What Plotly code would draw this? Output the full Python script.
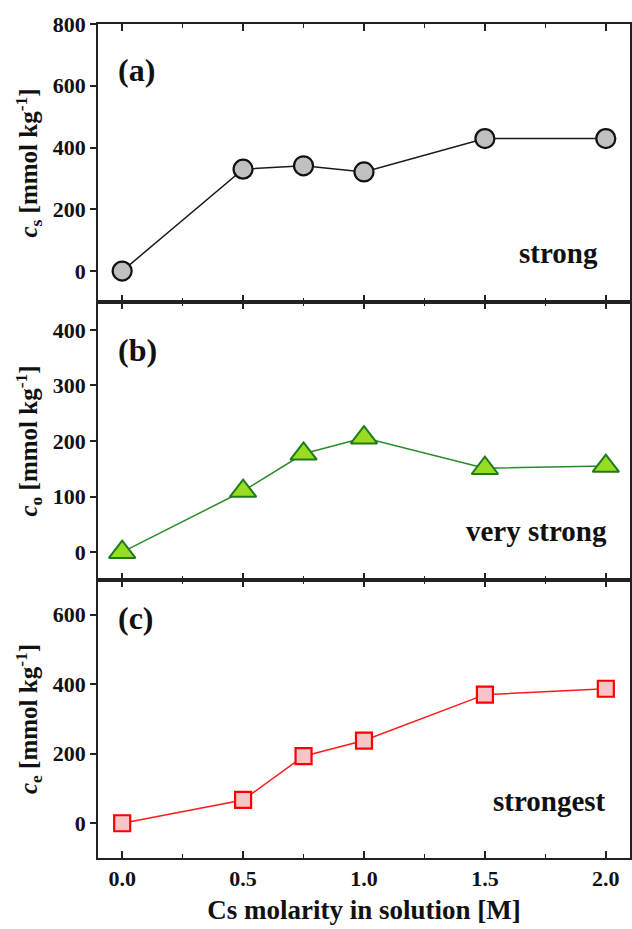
import plotly.graph_objects as go

x_molarity = [0.0, 0.5, 0.75, 1.0, 1.5, 2.0]
c_s = [0, 330, 341, 321, 429, 429]
c_o = [0, 110, 177, 206, 151, 155]
c_e = [0, 67, 193, 238, 370, 387]

x_ticks = [0.0, 0.5, 1.0, 1.5, 2.0]
x_ticklabels = ["0.0", "0.5", "1.0", "1.5", "2.0"]

panel_labels = ["(a)", "(b)", "(c)"]
strength_labels = ["strong", "very strong", "strongest"]
y_titles = ["<i>c</i><sub>s</sub> [mmol kg<sup>-1</sup>]",
            "<i>c</i><sub>o</sub> [mmol kg<sup>-1</sup>]",
            "<i>c</i><sub>e</sub> [mmol kg<sup>-1</sup>]"]

FONT = "Liberation Serif"
dom = [[2/3, 1.0], [1/3, 2/3], [0.0, 1/3]]

fig = go.Figure()

fig.add_trace(go.Scatter(x=x_molarity, y=c_s, mode="lines+markers", xaxis="x", yaxis="y",
                         line=dict(color="#1a1a1a", width=1.5),
                         marker=dict(symbol="circle", size=19, color="#c0c0c0",
                                     line=dict(color="#111111", width=2.2)),
                         showlegend=False))
fig.add_trace(go.Scatter(x=x_molarity, y=c_o, mode="lines+markers", xaxis="x2", yaxis="y2",
                         line=dict(color="#2a8a2a", width=1.5),
                         marker=dict(symbol="triangle-up", size=23, color="#99dd22",
                                     line=dict(color="#1f7a1f", width=2)),
                         showlegend=False))
fig.add_trace(go.Scatter(x=x_molarity, y=c_e, mode="lines+markers", xaxis="x3", yaxis="y3",
                         line=dict(color="#ff1a1a", width=1.5),
                         marker=dict(symbol="square", size=16, color="#f7c4c8",
                                     line=dict(color="#ff0000", width=2.2)),
                         showlegend=False))

y_ranges = [[-100, 800], [-50, 450], [-100, 700]]
y_dticks = [200, 100, 200]

tickfont = dict(family=FONT, size=22, color="#111111")
titlefont = dict(family=FONT, size=25, color="#111111")

layout = dict(
    width=632, height=929,
    margin=dict(l=98, r=0, t=24, b=71),
    plot_bgcolor="white", paper_bgcolor="white",
    showlegend=False,
)

for i in range(3):
    sx = "" if i == 0 else str(i + 1)
    layout["xaxis" + sx] = dict(
        domain=[0, 1], anchor="y" + sx, range=[-0.1, 2.1],
        tickvals=x_ticks, ticktext=[f"<b>{t}</b>" for t in x_ticklabels],
        showticklabels=(i == 2), ticks="inside", ticklen=7, tickwidth=1.5,
        tickcolor="#222", showline=True, linecolor="#222", linewidth=1.5,
        mirror="ticks", showgrid=False, zeroline=False, tickfont=tickfont,
        minor=dict(tickvals=[0.25, 0.75, 1.25, 1.75], ticks="inside", ticklen=4,
                   tickwidth=1.2, tickcolor="#222"),
    )
    if i > 0:
        layout["xaxis" + sx]["matches"] = "x"
    if i == 2:
        layout["xaxis3"]["title"] = dict(text="<b>Cs molarity in solution [M]</b>",
                                         font=dict(family=FONT, size=27, color="#111"),
                                         standoff=10)
    lo, hi = y_ranges[i]
    d = y_dticks[i]
    majors = [v for v in range(0, hi + 1, d) if lo <= v < hi or (i == 0 and v == hi)]
    minors = [v + d / 2 for v in range(lo - d, hi + d, d) if lo < v + d / 2 < hi]
    minors = [v for v in minors if v not in majors]
    layout["yaxis" + sx] = dict(
        domain=dom[i], anchor="x" + sx, range=[lo, hi],
        tickvals=majors, ticktext=[f"<b>{v}</b>" for v in majors],
        ticks="outside", ticklen=6, tickwidth=1.5, tickcolor="#222",
        showline=True, linecolor="#222", linewidth=1.5, mirror=True,
        showgrid=False, zeroline=False, tickfont=tickfont,
        minor=dict(tickvals=minors, ticks="outside", ticklen=4, tickwidth=1.2, tickcolor="#222"),
        title=dict(text="<b>" + y_titles[i] + "</b>", font=titlefont, standoff=8),
    )
    layout["yaxis" + str(i + 4)] = dict(
        domain=dom[i], anchor="x" + sx, overlaying="y" + sx, side="right",
        range=[lo, hi], tickvals=majors, showticklabels=False,
        ticks="inside", ticklen=6, tickwidth=1.5, tickcolor="#222",
        showline=False, showgrid=False, zeroline=False,
        minor=dict(tickvals=minors, ticks="inside", ticklen=4, tickwidth=1.2, tickcolor="#222"),
    )

fig.update_layout(**layout)

panel_y = [650, 364, 591]
text_x = [1.975, 2.015, 2.01]
text_y = [58, 39, 63]
for i in range(3):
    sx = "" if i == 0 else str(i + 1)
    fig.add_annotation(x=-0.025, y=panel_y[i], xref="x" + sx, yref="y" + sx,
                       text="<b>" + panel_labels[i] + "</b>", showarrow=False,
                       xanchor="left", yanchor="middle",
                       font=dict(family=FONT, size=32, color="#111"))
    fig.add_annotation(x=text_x[i], y=text_y[i], xref="x" + sx, yref="y" + sx,
                       text="<b>" + strength_labels[i] + "</b>", showarrow=False,
                       xanchor="right", yanchor="middle",
                       font=dict(family=FONT, size=29, color="#111"))

fig.write_html("out.html", config={"displayModeBar": False},
               post_script="document.body.style.margin='0px';document.body.style.overflow='hidden';")
